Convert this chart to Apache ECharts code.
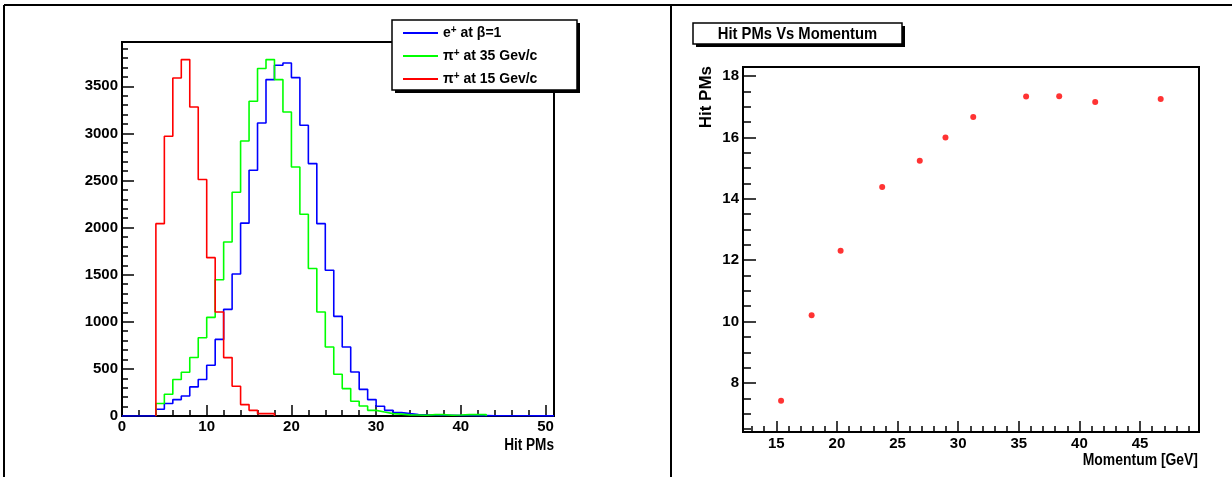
<!DOCTYPE html>
<html><head><meta charset="utf-8">
<script src="https://cdn.jsdelivr.net/npm/echarts@6/dist/echarts.min.js"></script>
<style>html,body{margin:0;padding:0;background:#fff}#c{width:1232px;height:477px}</style>
</head><body><div id="c"></div><script>
// ---------------- data ----------------
// Histogram bins: width 1 Hit PM, bin i covers [i, i+1)
const binWidth = 1;
const positronCounts = [0,0,0,0,71,132,174,213,309,387,539,813,1132,1507,2047,2608,3110,3571,3723,3747,3592,3086,2679,2042,1547,1058,732,467,283,174,103,60,36,25,15,12,10,8,8,6,5,4,4,3,3,2,2,2,1,1,1];
const pion35Counts = [0,0,0,0,132,231,387,465,621,830,1047,1447,1847,2375,2919,3341,3688,3783,3571,3227,2643,2141,1565,1104,732,443,291,156,106,60,42,25,20,12,10,8,15,15,8,10,15,15,15];
const pion15Counts = [0,0,0,0,2042,2969,3588,3783,3280,2510,1681,1104,620,315,121,60,25,25];
const histNames = ['e+ at β=1', 'π+ at 35 Gev/c', 'π+ at 15 Gev/c'];
const histFirstBin = [0, 4, 4];
const histColors = ['#0000ff', '#00ff00', '#ff0000'];

// Scatter: Hit PMs vs Momentum
const momentum = [15.39, 17.91, 20.3, 23.73, 26.83, 28.95, 31.24, 35.6, 38.33, 41.3, 46.7];
const hitPMs   = [7.42, 10.21, 12.31, 14.39, 15.24, 16.0, 16.67, 17.34, 17.35, 17.16, 17.26];

const leftYTicks = 500, leftXTicks = 10, rightXTicks = 5, rightYTicks = 2;

// ---------------- build ----------------
const FONT = '"Liberation Sans",Arial,sans-serif';

function stepData(counts, first) {
  const pts = [[first * binWidth, 0]];
  for (let i = first; i < counts.length; i++) pts.push([i * binWidth, counts[i]]);
  pts.push([counts.length * binWidth, 0]);
  return pts;
}

const histSeries = [positronCounts, pion35Counts, pion15Counts].map((c, k) => ({
  name: histNames[k], type: 'line', step: 'end', xAxisIndex: 0, yAxisIndex: 0,
  data: stepData(c, histFirstBin[k]), symbol: 'none', showSymbol: false,
  lineStyle: { color: histColors[k], width: 1.6 }, itemStyle: { color: histColors[k] },
  z: 2 + k
}));

const lblStyle = { color: '#000', fontFamily: FONT, fontWeight: 'bold', fontSize: 15 };
const lineBlack = { color: '#000', width: 2 };
const tickBlack = { color: '#000', width: 1.5 };

function mkAxis(o) {
  return Object.assign({
    type: 'value', splitLine: { show: false },
    axisLine: { show: true, onZero: false, lineStyle: lineBlack },
  }, o);
}

function condensedText(text, x, y, size, align, sx) {
  return { type: 'text', x: x, y: y, scaleX: sx, z: 10,
    style: { text: text, fill: '#000', font: 'bold ' + size + 'px ' + FONT, textAlign: align, textVerticalAlign: 'middle' } };
}

const option = {
  animation: false,
  backgroundColor: '#fff',
  grid: [
    { left: 122, right: 678, top: 42, bottom: 61, show: true, borderColor: '#000', borderWidth: 2 },
    { left: 743, right: 33, top: 67, bottom: 45, show: true, borderColor: '#000', borderWidth: 2 }
  ],
  xAxis: [
    mkAxis({ gridIndex: 0, min: 0, max: 51, interval: leftXTicks,
      axisTick: { inside: true, length: 11, lineStyle: tickBlack },
      minorTick: { show: true, splitNumber: 5, length: 6, lineStyle: tickBlack },
      axisLabel: Object.assign({ margin: 3, formatter: v => (v % leftXTicks === 0 ? String(v) : '') }, lblStyle) }),
    mkAxis({ gridIndex: 1, min: 12.25, max: 49.86, splitNumber: 7,
      axisTick: { inside: true, length: 11, lineStyle: tickBlack },
      minorTick: { show: true, splitNumber: 5, length: 6, lineStyle: tickBlack },
      axisLabel: Object.assign({ margin: 4, formatter: v => (Math.abs(v % rightXTicks) < 1e-9 ? String(v) : '') }, lblStyle) })
  ],
  yAxis: [
    mkAxis({ gridIndex: 0, min: 0, max: 3970, interval: leftYTicks,
      axisTick: { inside: true, length: 12, lineStyle: tickBlack },
      minorTick: { show: true, splitNumber: 5, length: 6, lineStyle: tickBlack },
      axisLabel: Object.assign({ margin: 4, formatter: v => (v % leftYTicks === 0 ? String(v) : '') }, lblStyle) }),
    mkAxis({ gridIndex: 1, min: 6.4, max: 18.3, splitNumber: 6,
      axisTick: { inside: true, length: 13, lineStyle: tickBlack },
      minorTick: { show: true, splitNumber: 4, length: 8, lineStyle: tickBlack },
      axisLabel: Object.assign({ margin: 4, formatter: v => (Math.abs(v % rightYTicks) < 1e-9 ? String(v) : '') }, lblStyle) })
  ],
  legend: {
    data: histNames, orient: 'vertical', left: 398, top: 20,
    icon: 'rect', itemWidth: 35, itemHeight: 2, itemGap: 8, selectedMode: false, z: 10,
    formatter: name => {
      const m = name.match(/^(\S)\+ (.*)$/);
      return '{n|' + m[1] + '}{s|+}{n| ' + m[2] + '}';
    },
    textStyle: {
      color: '#000', fontFamily: FONT, fontWeight: 'bold', fontSize: 14,
      rich: {
        n: { color: '#000', fontFamily: FONT, fontWeight: 'bold', fontSize: 14, lineHeight: 16 },
        s: { color: '#000', fontFamily: FONT, fontWeight: 'bold', fontSize: 10, lineHeight: 10, verticalAlign: 'top' }
      }
    }
  },
  graphic: [
    // page frame lines
    { type: 'line', shape: { x1: 4, y1: 5, x2: 1232, y2: 5 }, style: { stroke: '#000', lineWidth: 2 }, z: 1 },
    { type: 'line', shape: { x1: 4, y1: 5, x2: 4, y2: 477 }, style: { stroke: '#000', lineWidth: 2 }, z: 1 },
    { type: 'line', shape: { x1: 671, y1: 5, x2: 671, y2: 477 }, style: { stroke: '#000', lineWidth: 2 }, z: 1 },
    // legend box with shadow
    { type: 'rect', shape: { x: 395, y: 23, width: 185, height: 70 }, style: { fill: '#000' }, z: 8 },
    { type: 'rect', shape: { x: 392, y: 20, width: 185, height: 70 }, style: { fill: '#fff', stroke: '#000', lineWidth: 1.5 }, z: 9 },
    // title box with shadow
    { type: 'rect', shape: { x: 696, y: 26, width: 209, height: 21 }, style: { fill: '#000' }, z: 8 },
    { type: 'rect', shape: { x: 693, y: 23, width: 209, height: 21 }, style: { fill: '#fff', stroke: '#000', lineWidth: 1.5 }, z: 9 },
    condensedText('Hit PMs Vs Momentum', 797.5, 34, 17, 'center', 0.87),
    // axis titles
    condensedText('Hit PMs', 554, 446, 16, 'right', 0.85),
    condensedText('Momentum [GeV]', 1198, 461, 16, 'right', 0.87),
    { type: 'text', x: 706, y: 66, rotation: Math.PI / 2, z: 10, style: { text: 'Hit PMs', fill: '#000', font: 'bold 17px ' + FONT, textAlign: 'right', textVerticalAlign: 'middle' } }
  ],
  series: histSeries.concat([{
    name: 'Hit PMs vs Momentum', type: 'scatter', xAxisIndex: 1, yAxisIndex: 1,
    data: momentum.map((m, i) => [m, hitPMs[i]]),
    symbol: 'circle', symbolSize: 6, itemStyle: { color: '#ff0000' }, z: 3
  }])
};

const chart = echarts.init(document.getElementById('c'), null, { renderer: 'canvas' });
chart.setOption(option);
</script></body></html>
